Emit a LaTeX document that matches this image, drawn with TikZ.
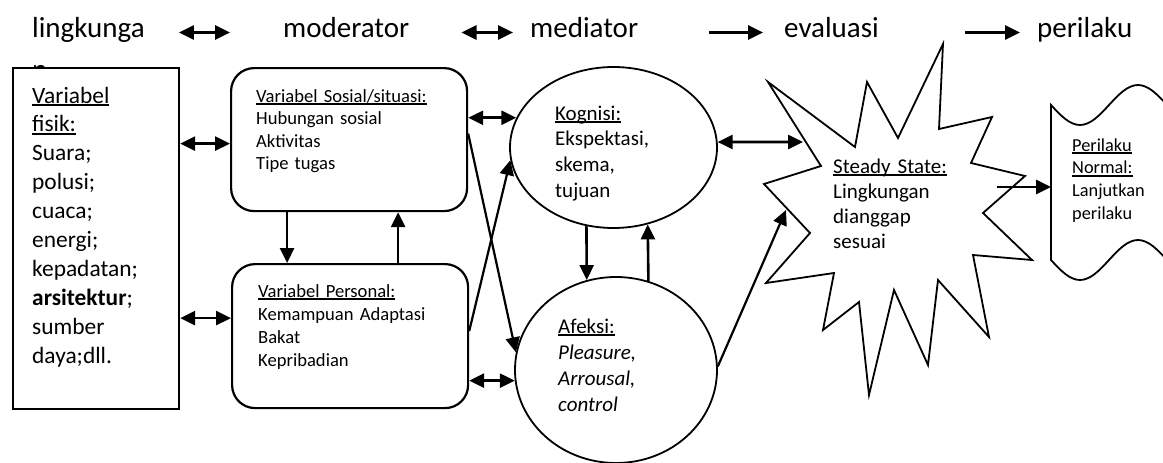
\documentclass[tikz,border=0pt]{standalone}
\usepackage{fontspec}
\setmainfont{Carlito}
\usetikzlibrary{arrows.meta,shapes.geometric}

\newcommand{\undl}[1]{\leavevmode\setbox0\hbox{#1}\rlap{\vrule height -1.4pt depth 3.1pt width \wd0}\box0}

\begin{document}
\begin{tikzpicture}[x=1pt,y=-1pt,
  lbl/.style={inner sep=0pt,anchor=base west,text height=18pt,text depth=9pt,font=\fontsize{29}{35}\selectfont},
  txt/.style={inner sep=0pt,anchor=base west,align=left,text width=250pt},
  sqbox/.style={draw,line width=2.2pt,fill=white,inner sep=0pt,anchor=north west},
  rbox/.style={sqbox,rounded corners=23pt},
  oval/.style={draw,ellipse,line width=1.8pt,fill=white,inner sep=0pt},
  arr/.style={line width=2.6pt,-{Triangle[length=15pt,width=14pt]}},
  dblarr/.style={line width=2.6pt,{Triangle[length=15pt,width=14pt]}-{Triangle[length=15pt,width=14pt]}},
  slant/.style={line width=2.2pt,-{Triangle[length=15pt,width=14pt]}}]
  \useasboundingbox (0,0) rectangle (1163,463);

  \node[lbl] (ling) at (32,37) {lingkunga};
  \node[lbl] (lingn) at (32,79) {n};
  \node[lbl] (mod) at (283,37) {moderator};
  \node[lbl] (med) at (530,37) {mediator};
  \node[lbl] (eva) at (784,37) {evaluasi};
  \node[lbl] (peri) at (1037,37) {perilaku};

  \draw[dblarr,shorten <=34pt,shorten >=53pt] (ling) -- (mod);
  \draw[dblarr,shorten <=52pt,shorten >=17pt] (mod) -- (med);
  \draw[arr,shorten <=71pt,shorten >=21pt] (med) -- (eva);
  \draw[arr,shorten <=86pt,shorten >=17pt] (eva) -- (peri);

  \node[sqbox,minimum width=166pt,minimum height=341pt] (fis) at (12,67) {};
  \node[rbox,minimum width=236pt,minimum height=143pt] (sos) at (230,67) {};
  \node[rbox,minimum width=236pt,minimum height=144pt] (per) at (231,263) {};
  \node[oval,minimum width=207pt,minimum height=161pt] (kog) at (613.5,147.5) {};
  \node[oval,minimum width=202pt,minimum height=186pt] (afe) at (616,370) {};

  \draw[line width=1.8pt,fill=white] (768,82) -- (855,147) -- (867,82) -- (898,138)
    -- (943,44) -- (939,129) -- (992,117) -- (971,163) -- (1025,176) -- (983,213)
    -- (1032,260) -- (973,255) -- (989,337) -- (938,280) -- (928,365) -- (894,290)
    -- (869,395) -- (859,302) -- (823,330) -- (834,273) -- (766,283) -- (810,233)
    -- (764,184) -- (821,166) -- cycle;
  \coordinate (stL) at (803,142);
  \coordinate (stA) at (786,210);
  \coordinate (stR) at (997,187);

  \draw[line width=1.8pt] (1051,105) sin (1080,125) cos (1109,105) sin (1138,85) cos (1167,105)
    -- (1167,260) sin (1138,240) cos (1109,260) sin (1080,280) cos (1051,260) -- cycle;
  \coordinate (normL) at (1051,187);

  \node[txt,font=\fontsize{23.4}{28.9}\selectfont] (fisT) at (32,103)
    {\undl{Variabel}\\\undl{fisik:}\\Suara;\\polusi;\\cuaca;\\energi;\\kepadatan;\\\textbf{arsitektur};\\sumber\\daya;dll.};
  \node[txt,font=\fontsize{18.6}{22.5}\selectfont] (sosT) at (256,102)
    {\undl{Variabel Sosial/situasi:}\\Hubungan sosial\\Aktivitas\\Tipe tugas};
  \node[txt,font=\fontsize{18.6}{23}\selectfont] (perT) at (258,297)
    {\undl{Variabel Personal:}\\Kemampuan Adaptasi\\Bakat\\Kepribadian};
  \node[txt,font=\fontsize{21}{25.7}\selectfont] (kogT) at (555,120)
    {\undl{Kognisi:}\\Ekspektasi,\\skema,\\tujuan};
  \node[txt,font=\fontsize{21}{26.2}\selectfont] (afeT) at (558,333)
    {\undl{Afeksi:}\\\textit{Pleasure,}\\\textit{Arrousal,}\\\textit{control}};
  \node[txt,font=\fontsize{21}{25}\selectfont] (stT) at (833,173)
    {\undl{Steady State:}\\Lingkungan\\dianggap\\sesuai};
  \node[txt,font=\fontsize{18.3}{22.8}\selectfont] (normT) at (1072,151)
    {\undl{Perilaku}\\\undl{Normal:}\\Lanjutkan\\perilaku};

  \draw[dblarr] ([yshift=-4pt]sos.west -| fis.east) -- ([yshift=-4pt]sos.west);
  \draw[dblarr] ([yshift=18pt]per.west -| fis.east) -- ([yshift=18pt]per.west);
  \draw[arr] ([xshift=-62pt]sos.south) -- ([xshift=-62pt]sos.south |- per.north);
  \draw[arr] ([xshift=48pt]per.north) -- ([xshift=48pt]per.north |- sos.south);
  \draw[dblarr] (kog.163 -| sos.east) -- (kog.163);
  \draw[dblarr] (afe.186 -| per.east) -- (afe.186);
  \draw[slant] ([yshift=6pt]sos.east) -- (afe.170);
  \draw[slant] ([yshift=5pt]per.east) -- (kog.187);
  \draw[arr] (kog.251) -- (afe.108);
  \draw[arr] (afe.70) -- (kog.294);
  \draw[dblarr] (kog.3) -- (stL);
  \draw[slant] (afe.2) -- (stA);
  \draw[arr] (stR) -- (normL);
\end{tikzpicture}
\end{document}
